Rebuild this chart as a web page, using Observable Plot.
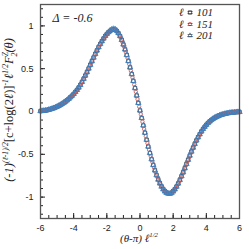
<!DOCTYPE html>
<html><head><meta charset="utf-8">
<script src="https://cdn.jsdelivr.net/npm/d3@7"></script>
<script src="https://cdn.jsdelivr.net/npm/@observablehq/plot@0.6"></script>
<style>html,body{margin:0;padding:0;background:#fff}#c svg{display:block}</style>
</head><body><div id="c"></div>
<script>
// x grid: (theta-pi) * l^(1/2)
const x101Start = -6.0, x151Start = -5.95, x201Start = -6.0, xStep = 0.1;

const y101 = [
  0.005,0.007,0.009,0.012,0.016,0.021,0.027,0.033,0.040,0.048,
  0.056,0.066,0.077,0.089,0.102,0.116,0.131,0.148,0.166,0.185,
  0.205,0.228,0.252,0.280,0.310,0.345,0.382,0.420,0.460,0.502,
  0.545,0.588,0.630,0.672,0.713,0.752,0.788,0.822,0.853,0.881,
  0.905,0.925,0.942,0.954,0.960,0.955,0.940,0.915,0.880,0.835,
  0.783,0.725,0.660,0.590,0.515,0.437,0.357,0.273,0.187,0.100,
  0.012,-0.076,-0.163,-0.248,-0.330,-0.410,-0.486,-0.558,-0.625,-0.687,
  -0.743,-0.793,-0.837,-0.874,-0.905,-0.929,-0.946,-0.955,-0.956,-0.948,
  -0.930,-0.907,-0.877,-0.841,-0.800,-0.756,-0.710,-0.662,-0.613,-0.564,
  -0.515,-0.468,-0.422,-0.379,-0.338,-0.300,-0.265,-0.233,-0.204,-0.178,
  -0.155,-0.134,-0.116,-0.100,-0.086,-0.074,-0.063,-0.054,-0.046,-0.039,
  -0.033,-0.028,-0.023,-0.019,-0.016,-0.013,-0.011,-0.009,-0.007,-0.006,
  -0.005
];
const y151 = [
  0.006,0.008,0.010,0.014,0.018,0.024,0.030,0.036,0.044,0.052,
  0.061,0.071,0.083,0.095,0.109,0.123,0.139,0.157,0.175,0.195,
  0.216,0.240,0.266,0.295,0.327,0.363,0.401,0.440,0.481,0.523,
  0.566,0.609,0.651,0.692,0.732,0.770,0.805,0.837,0.867,0.893,
  0.915,0.934,0.948,0.957,0.958,0.948,0.928,0.898,0.858,0.809,
  0.754,0.693,0.625,0.553,0.476,0.397,0.315,0.230,0.144,0.056,
  -0.032,-0.120,-0.206,-0.289,-0.370,-0.448,-0.522,-0.592,-0.656,-0.715,
  -0.768,-0.815,-0.856,-0.890,-0.917,-0.938,-0.951,-0.956,-0.952,-0.940,
  -0.919,-0.892,-0.859,-0.821,-0.778,-0.733,-0.686,-0.638,-0.589,-0.540,
  -0.491,-0.445,-0.400,-0.358,-0.319,-0.282,-0.249,-0.218,-0.191,-0.166,
  -0.144,-0.125,-0.108,-0.093,-0.080,-0.068,-0.058,-0.050,-0.042,-0.036,
  -0.030,-0.025,-0.021,-0.017,-0.014,-0.012,-0.010,-0.008,-0.006,-0.005
];
const y201 = [
  0.005,0.007,0.009,0.012,0.016,0.021,0.027,0.033,0.040,0.048,
  0.056,0.066,0.077,0.089,0.102,0.116,0.131,0.148,0.166,0.185,
  0.205,0.228,0.252,0.280,0.310,0.345,0.382,0.420,0.460,0.502,
  0.545,0.588,0.630,0.672,0.713,0.752,0.788,0.822,0.853,0.882,
  0.907,0.928,0.946,0.958,0.965,0.960,0.944,0.918,0.882,0.836,
  0.783,0.725,0.660,0.590,0.515,0.437,0.357,0.273,0.187,0.100,
  0.012,-0.076,-0.163,-0.248,-0.330,-0.410,-0.486,-0.558,-0.625,-0.688,
  -0.745,-0.796,-0.840,-0.878,-0.909,-0.934,-0.951,-0.960,-0.962,-0.953,
  -0.934,-0.909,-0.878,-0.841,-0.800,-0.756,-0.710,-0.662,-0.613,-0.564,
  -0.515,-0.468,-0.422,-0.379,-0.338,-0.300,-0.265,-0.233,-0.204,-0.178,
  -0.155,-0.134,-0.116,-0.100,-0.086,-0.074,-0.063,-0.054,-0.046,-0.039,
  -0.033,-0.028,-0.023,-0.019,-0.016,-0.013,-0.011,-0.009,-0.007,-0.006,
  -0.005
];

const xTicks = [-6, -4, -2, 0, 2, 4, 6];
const xMinorTicks = [-6,-5.5,-5,-4.5,-4,-3.5,-3,-2.5,-2,-1.5,-1,-0.5,0,0.5,1,1.5,2,2.5,3,3.5,4,4.5,5,5.5,6];
const yTicks = [-1, -0.5, 0, 0.5, 1];
const yTickLabels = ["-1", "-0.5", "0", "0.5", "1"];
const yMinorTicks = [-1.2,-1.1,-1,-0.9,-0.8,-0.7,-0.6,-0.5,-0.4,-0.3,-0.2,-0.1,0,0.1,0.2,0.3,0.4,0.5,0.6,0.7,0.8,0.9,1,1.1,1.2];
const seriesLabels = ["101", "151", "201"];
const seriesSymbols = ["square", "circle", "triangle"];
const seriesColors = ["#333333", "#d0605a", "#3c82c4"];
const deltaLabel = "Δ = -0.6";

const toRows = (ys, x0) => ys.map((y, i) => ({x: x0 + i * xStep, y}));
const d101 = toRows(y101, x101Start);
const d151 = toRows(y151, x151Start);
const d201 = toRows(y201, x201Start);

const serif = "'Liberation Serif','DejaVu Serif','Times New Roman',serif";

const plot = Plot.plot({
  width: 249, height: 249,
  marginLeft: 40, marginRight: 10, marginTop: 4, marginBottom: 31,
  style: {fontFamily: "'Liberation Sans',Arial,Helvetica,sans-serif", fontSize: "9px", color: "#222", background: "#fff"},
  x: {domain: [-6, 6]},
  y: {domain: [-1.25, 1.25]},
  marks: [
    Plot.axisX(xTicks, {tickSize: 0, tickPadding: 6, tickFormat: d => String(d), label: null}),
    Plot.axisX(xTicks, {tickSize: -5, tickFormat: () => "", label: null, stroke: "#222"}),
    Plot.axisX(xMinorTicks, {tickSize: -3, tickFormat: () => "", label: null, stroke: "#222"}),
    Plot.axisY(yTicks, {tickSize: 0, tickPadding: 7, tickFormat: d => yTickLabels[yTicks.indexOf(d)], label: null}),
    Plot.axisY(yTicks, {tickSize: -5, tickFormat: () => "", label: null, stroke: "#222"}),
    Plot.axisY(yMinorTicks, {tickSize: -3, tickFormat: () => "", label: null, stroke: "#222"}),
    Plot.dot(d101, {x: "x", y: "y", symbol: seriesSymbols[0], r: 1.9, stroke: seriesColors[0], strokeWidth: 0.9, fill: "none"}),
    Plot.dot(d151, {x: "x", y: "y", symbol: seriesSymbols[1], r: 1.7, stroke: seriesColors[1], strokeWidth: 0.9, fill: "none"}),
    Plot.dot(d201, {x: "x", y: "y", symbol: seriesSymbols[2], r: 2.0, stroke: seriesColors[2], strokeWidth: 0.9, fill: "none"}),
    Plot.frame({stroke: "#555", strokeWidth: 1.3}),
    Plot.text([deltaLabel], {frameAnchor: "top-left", dx: 12, dy: 9, text: d => d, fontFamily: serif, fontStyle: "italic", fontSize: 12, fill: "#222", textAnchor: "start"})
  ]
});
document.getElementById("c").appendChild(plot);

const svg = d3.select(plot);

function mathText(t, parts, base) {
  let shift = 0;
  parts.forEach(p => {
    const lvl = p.s || 0;
    const target = lvl === 1 ? -0.42 * base : lvl === -1 ? 0.28 * base : 0;
    const ts = t.append("tspan").text(p.t)
      .attr("dy", target - shift)
      .attr("font-size", lvl ? base * 0.62 : base)
      .attr("font-style", p.r ? "normal" : "italic");
    if (p.dx) ts.attr("dx", p.dx);
    shift = target;
  });
}

// y-axis title
const yt = svg.append("text")
  .attr("transform", "translate(13,110) rotate(-90)")
  .attr("text-anchor", "middle")
  .attr("font-family", serif)
  .attr("fill", "#222");
mathText(yt, [
  {t: "(-1)"}, {t: "(ℓ-1)/2", s: 1}, {t: "[c+log(2", r: 1}, {t: "ℓ"}, {t: ")]", r: 1},
  {t: "-1", s: 1}, {t: "ℓ"}, {t: "1/2", s: 1}, {t: "F"}, {t: "Z", s: 1}, {t: "2", s: -1, dx: -4.5}, {t: "(θ)"}
], 12.5);

// x-axis title
const xt = svg.append("text")
  .attr("x", 139).attr("y", 242)
  .attr("text-anchor", "middle")
  .attr("font-family", serif)
  .attr("fill", "#222");
mathText(xt, [{t: "(θ-π) ℓ"}, {t: "1/2", s: 1}], 11);

// legend
const lg = svg.append("g");
seriesLabels.forEach((lab, i) => {
  const cy = 12.5 + i * 11.5;
  lg.append("path")
    .attr("transform", `translate(190,${cy})`)
    .attr("d", d3.symbol(i === 0 ? d3.symbolSquare : i === 1 ? d3.symbolCircle : d3.symbolTriangle, i === 0 ? 11 : 9)())
    .attr("fill", "none").attr("stroke", seriesColors[i]).attr("stroke-width", 0.8);
  lg.append("text")
    .attr("x", 196).attr("y", cy + 3.5)
    .attr("font-family", serif).attr("font-style", "italic").attr("font-size", 11)
    .attr("fill", "#222")
    .text(`ℓ = ${lab}`);
});
</script>
</body></html>
